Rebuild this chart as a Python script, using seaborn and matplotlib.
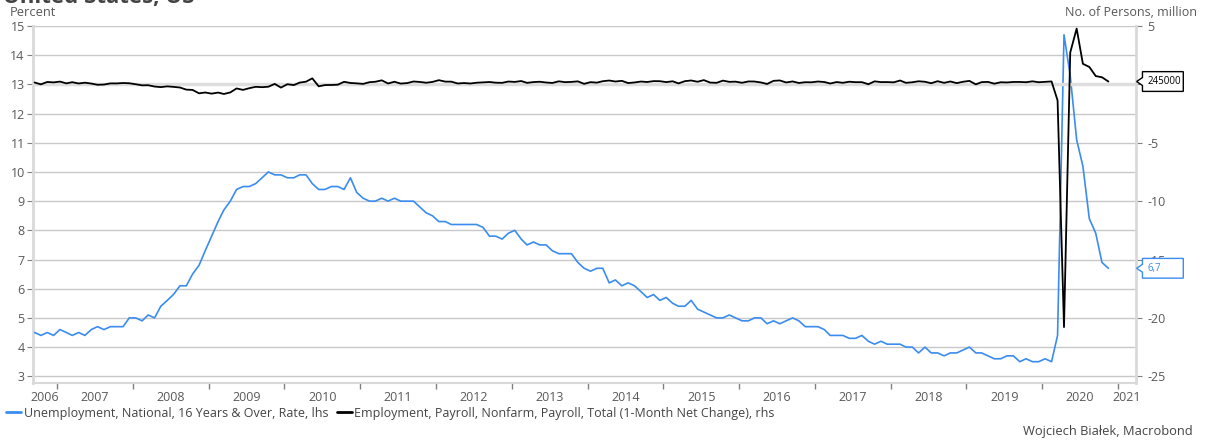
import matplotlib
matplotlib.use('Agg')
import matplotlib.pyplot as plt
import matplotlib.dates as mdates
from matplotlib.path import Path
from matplotlib.ticker import FixedLocator, FixedFormatter, NullFormatter
from matplotlib.transforms import blended_transform_factory
import numpy as np
import pandas as pd
import seaborn as sns

# Monthly data, Sep 2006 - Nov 2020
unemployment = [
    4.5, 4.4, 4.5, 4.4,
    4.6, 4.5, 4.4, 4.5, 4.4, 4.6, 4.7, 4.6, 4.7, 4.7, 4.7, 5.0,
    5.0, 4.9, 5.1, 5.0, 5.4, 5.6, 5.8, 6.1, 6.1, 6.5, 6.8, 7.3,
    7.8, 8.3, 8.7, 9.0, 9.4, 9.5, 9.5, 9.6, 9.8, 10.0, 9.9, 9.9,
    9.8, 9.8, 9.9, 9.9, 9.6, 9.4, 9.4, 9.5, 9.5, 9.4, 9.8, 9.3,
    9.1, 9.0, 9.0, 9.1, 9.0, 9.1, 9.0, 9.0, 9.0, 8.8, 8.6, 8.5,
    8.3, 8.3, 8.2, 8.2, 8.2, 8.2, 8.2, 8.1, 7.8, 7.8, 7.7, 7.9,
    8.0, 7.7, 7.5, 7.6, 7.5, 7.5, 7.3, 7.2, 7.2, 7.2, 6.9, 6.7,
    6.6, 6.7, 6.7, 6.2, 6.3, 6.1, 6.2, 6.1, 5.9, 5.7, 5.8, 5.6,
    5.7, 5.5, 5.4, 5.4, 5.6, 5.3, 5.2, 5.1, 5.0, 5.0, 5.1, 5.0,
    4.9, 4.9, 5.0, 5.0, 4.8, 4.9, 4.8, 4.9, 5.0, 4.9, 4.7, 4.7,
    4.7, 4.6, 4.4, 4.4, 4.4, 4.3, 4.3, 4.4, 4.2, 4.1, 4.2, 4.1,
    4.1, 4.1, 4.0, 4.0, 3.8, 4.0, 3.8, 3.8, 3.7, 3.8, 3.8, 3.9,
    4.0, 3.8, 3.8, 3.7, 3.6, 3.6, 3.7, 3.7, 3.5, 3.6, 3.5, 3.5,
    3.6, 3.5, 4.4, 14.7, 13.3, 11.1, 10.2, 8.4, 7.9, 6.9, 6.7,
]

# Nonfarm payrolls, 1-month net change, thousands
payrolls_k = [
    158, 4, 208, 171,
    238, 88, 188, 78, 144, 71, -33, -16, 85, 82, 118, 97,
    13, -83, -72, -185, -233, -170, -213, -267, -450, -474, -766, -694,
    -793, -702, -823, -687, -349, -471, -329, -209, -239, -202, 42, -275,
    14, -59, 153, 232, 517, -167, -58, -51, -27, 220, 121, 88,
    42, 188, 225, 346, 77, 225, 69, 110, 248, 209, 141, 209,
    358, 237, 233, 78, 115, 76, 143, 177, 203, 146, 132, 244,
    211, 286, 130, 197, 226, 162, 122, 261, 190, 212, 258, 47,
    190, 151, 272, 329, 246, 304, 114, 165, 243, 203, 279, 273,
    195, 265, 85, 276, 332, 226, 365, 153, 135, 322, 216, 233,
    139, 251, 245, 166, 35, 303, 336, 164, 250, 120, 186, 178,
    245, 202, 75, 200, 136, 227, 189, 190, 14, 259, 196, 198,
    175, 330, 134, 182, 266, 224, 99, 272, 132, 248, 109, 222,
    300, 1, 194, 212, 60, 182, 166, 207, 208, 185, 261, 184,
    214, 251, -1373, -20787, 2725, 4781, 1761, 1493, 711, 610, 245,
]

months = pd.date_range('2006-09-01', '2020-11-01', freq='MS') + pd.Timedelta(days=14)
df = pd.DataFrame({'date': months,
                   'unemployment': unemployment,
                   'payrolls': np.array(payrolls_k) / 1000})

blue = '#3b8cf0'
grid_c = '#c8c8c8'
spine_c = '#d9d9d9'
text_c = '#595959'

sns.set_theme(style='white')
plt.rcParams['font.family'] = ['Open Sans', 'DejaVu Sans']
plt.rcParams['axes.unicode_minus'] = False

W, H = 1210, 441
fig = plt.figure(figsize=(W / 100, H / 100), dpi=100)
ax = fig.add_axes([33 / W, 1 - 383 / H, (1136 - 33) / W, (383 - 26) / H])
ax2 = ax.twinx()

sns.lineplot(data=df, x='date', y='unemployment', ax=ax, color=blue, lw=1.2, zorder=3)
sns.lineplot(data=df, x='date', y='payrolls', ax=ax2, color='black', lw=1.3, zorder=3)

lo, hi = 2.77, 15
ax.set_ylim(lo, hi)
ax2.set_ylim(-25 + 2.5 * (lo - 3), 5)
ax.set_yticks(range(3, 16))
# the 0 label sits under the value tag in the original
ax2.set_yticks([5, 0, -5, -10, -15, -20, -25])
ax2.set_yticklabels(['5', '', '-5', '-10', '-15', '-20', '-25'])
ax.yaxis.grid(True, color=grid_c, lw=1)
ax.xaxis.grid(False)
ax2.grid(False)
ax2.axhline(0, color='#dedede', lw=2.5, zorder=0)

x0, x1 = pd.Timestamp('2006-09-07'), pd.Timestamp('2021-03-28')
ax.set_xlim(x0, x1)
ax.xaxis.set_major_locator(mdates.YearLocator())
ax.xaxis.set_major_formatter(NullFormatter())
years = list(range(2006, 2022))
label_pos = []
for y in years:
    a = max(pd.Timestamp(f'{y}-01-01'), x0)
    b = min(pd.Timestamp(f'{y + 1}-01-01'), x1)
    label_pos.append(mdates.date2num(a + (b - a) / 2))
ax.xaxis.set_minor_locator(FixedLocator(label_pos))
ax.xaxis.set_minor_formatter(FixedFormatter([str(y) for y in years]))
ax.tick_params(axis='x', which='major', length=4, width=1, color='#808080',
               direction='out', bottom=True)
ax.tick_params(axis='x', which='minor', length=0, pad=6, labelsize=9,
               labelcolor=text_c, bottom=True)
ax.tick_params(axis='y', length=4, width=0.8, color='#808080', left=True,
               labelsize=9, labelcolor=text_c, pad=2)
ax2.tick_params(axis='y', length=4, width=0.8, color='#808080', right=True,
                labelsize=9, labelcolor=text_c, pad=4)
ax.set_xlabel('')
ax.set_ylabel('')
ax2.set_ylabel('')

for s in ['top', 'right']:
    ax.spines[s].set_visible(False)
for s in ['top', 'left', 'bottom']:
    ax2.spines[s].set_visible(False)
ax.spines['left'].set_color(spine_c)
ax.spines['left'].set_linewidth(2)
ax.spines['bottom'].set_color(spine_c)
ax.spines['bottom'].set_linewidth(1.5)
ax2.spines['right'].set_color(spine_c)
ax2.spines['right'].set_linewidth(2)


def tag_box(x0, y0, width, height, mutation_size):
    # box of fixed width with a small pointer on the left side
    pad = 0.45 * mutation_size
    left = x0 - 0.55 * mutation_size
    bottom = y0 - pad
    w = 4.2 * mutation_size
    h = height + 2 * pad
    tip = 0.6 * mutation_size
    ym = bottom + h / 2
    verts = [(left, bottom), (left + w, bottom), (left + w, bottom + h),
             (left, bottom + h), (left, ym + 0.2 * h), (left - tip, ym),
             (left, ym - 0.2 * h), (left, bottom)]
    codes = [Path.MOVETO] + [Path.LINETO] * 6 + [Path.CLOSEPOLY]
    return Path(verts, codes)


last_pay = df['payrolls'].iloc[-1]
last_un = df['unemployment'].iloc[-1]
ax2.annotate(f'{int(round(last_pay * 1e6))}', xy=(1, last_pay),
             xycoords=blended_transform_factory(ax2.transAxes, ax2.transData),
             xytext=(8.5, 0), textcoords='offset points', ha='left', va='center',
             fontsize=7, color='black', annotation_clip=False, zorder=10,
             bbox=dict(boxstyle=tag_box, fc='white', ec='black', lw=1))
ax2.annotate(f'{last_un:.1f}'.replace('.', ','), xy=(1, last_un),
             xycoords=blended_transform_factory(ax2.transAxes, ax.transData),
             xytext=(8.5, 0), textcoords='offset points', ha='left', va='center',
             fontsize=7, color=blue, annotation_clip=False, zorder=10,
             bbox=dict(boxstyle=tag_box, fc='white', ec=blue, lw=1))

# chart title, mostly above the visible area as in the original export
fig.text(3 / W, 1 - 2.5 / H, 'United States, US', fontsize=16, fontweight='bold',
         color='#444444', va='baseline', ha='left')
fig.text(10 / W, 1 - 12 / H, 'Percent', fontsize=9.3, color=text_c,
         va='center', ha='left')
fig.text(1197 / W, 1 - 12 / H, 'No. of Persons, million', fontsize=9,
         color=text_c, va='center', ha='right')

handles = ax.get_lines()[:1] + ax2.get_lines()[:1]
fig.legend(handles,
           ['Unemployment, National, 16 Years & Over, Rate, lhs',
            'Employment, Payroll, Nonfarm, Payroll, Total (1-Month Net Change), rhs'],
           loc='center left', bbox_to_anchor=(6 / W, 1 - 413 / H), ncol=2,
           frameon=False, fontsize=9.0, labelcolor='#444444',
           handlelength=1.2, handletextpad=0.2, columnspacing=0.7,
           borderpad=0, borderaxespad=0)
for lh in fig.legends[0].get_lines():
    lh.set_linewidth(2)

fig.text(1193 / W, 1 - 432 / H, 'Wojciech Białek, Macrobond', fontsize=9.3,
         color='#444444', va='center', ha='right')

fig.savefig('out.png', dpi=100)
